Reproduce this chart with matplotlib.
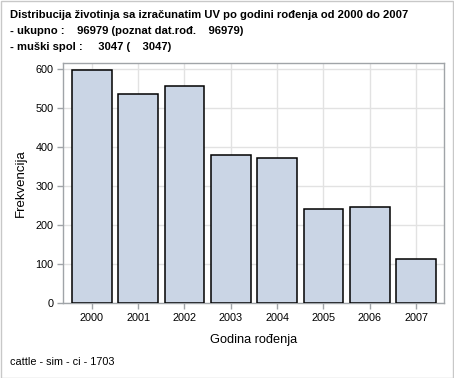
import matplotlib
matplotlib.use('Agg')
import matplotlib.pyplot as plt
from matplotlib.patches import Rectangle

# Data
years = ['2000', '2001', '2002', '2003', '2004', '2005', '2006', '2007']
counts = [596, 535, 556, 378, 372, 242, 245, 112]

title_lines = [
    'Distribucija životinja sa izračunatim UV po godini rođenja od 2000 do 2007',
    '- ukupno :    96979 (poznat dat.rođ.    96979)',
    '- muški spol :     3047 (    3047)',
]
footnote = 'cattle - sim - ci - 1703'

plt.rcParams['font.family'] = ['Liberation Sans', 'DejaVu Sans']

fig = plt.figure(figsize=(4.54, 3.78), dpi=100)
W, H = 454, 378
# axes placed in pixel coordinates
left, right, top, bottom = 63, 444, 63, 303
ax = fig.add_axes([left / W, 1 - bottom / H, (right - left) / W, (bottom - top) / H])

x = list(range(len(years)))
ax.bar(x, counts, width=0.86, color='#CAD5E5', edgecolor='black', linewidth=1.1, zorder=3)

ax.set_xlim(-0.62, 7.6)
ax.set_ylim(0, 615)
ax.set_xticks(x)
ax.set_xticklabels(years)
ax.set_yticks(range(0, 601, 100))
ax.grid(True, color='#e2e2e2', linewidth=1, zorder=0)
ax.set_axisbelow(True)

for s in ax.spines.values():
    s.set_color('#a0a4a8')
    s.set_linewidth(1)
ax.tick_params(axis='both', colors='#a0a4a8', length=4, width=1, labelsize=7.8, labelcolor='black', pad=3)

ax.set_xlabel('Godina rođenja', fontsize=9.2, labelpad=8)
ax.set_ylabel('Frekvencija', fontsize=9.5, labelpad=6)

# title block, left aligned
for i, line in enumerate(title_lines):
    fig.text(10 / W, 1 - (15 + 16 * i) / H, line, fontsize=8.1, fontweight='bold',
             ha='left', va='center')

fig.text(10 / W, 1 - 362 / H, footnote, fontsize=7.8, ha='left', va='center')

# outer frame
fig.patches.append(Rectangle((0.5 / W, 0.5 / H), 1 - 1.5 / W, 1 - 1.5 / H, transform=fig.transFigure,
                             fill=False, edgecolor='#c8c8c8', linewidth=1))

fig.savefig('out.png', dpi=100)
